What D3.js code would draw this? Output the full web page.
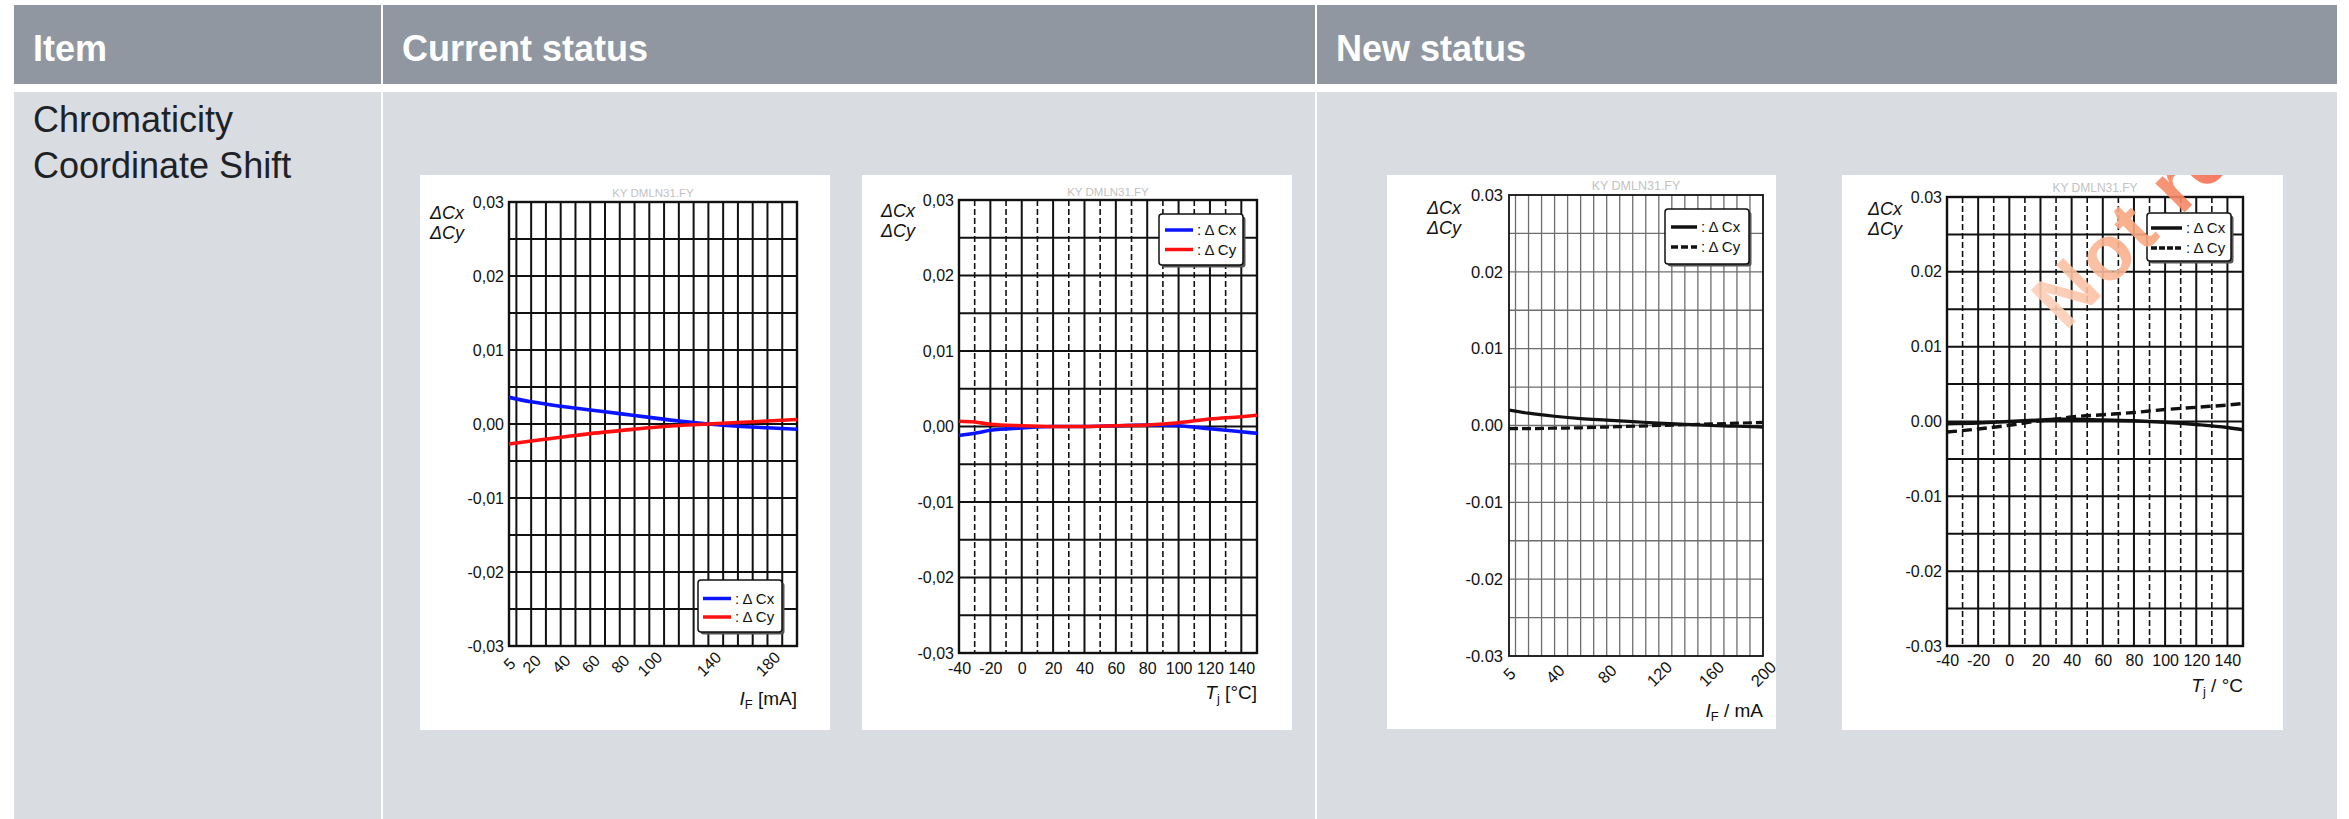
<!DOCTYPE html>
<html><head><meta charset="utf-8">
<script src="https://cdn.jsdelivr.net/npm/d3@7"></script>
<style>body{margin:0;background:#fff}svg{display:block}</style>
</head><body>
<svg id="c" width="2349" height="819"></svg>
<script>
// ---------- data ----------
const headers = ["Item", "Current status", "New status"];
const itemLines = ["Chromaticity", "Coordinate Shift"];
const yTicks = [-0.03, -0.02, -0.01, 0, 0.01, 0.02, 0.03];
const seriesNames = [": \u0394 Cx", ": \u0394 Cy"];
const watermark = "KY DMLN31.FY";
const stamp = "Not re";

// chart 1: current status, vs forward current
const c1X  = [5, 20, 40, 60, 80, 100, 120, 140, 160, 180, 200];
const c1Cx = [0.0036, 0.0030, 0.0024, 0.0019, 0.0014, 0.0009, 0.0004, 0.0000, -0.0003, -0.0005, -0.0007];
const c1Cy = [-0.0027, -0.0023, -0.0018, -0.0013, -0.0009, -0.0005, -0.0002, 0.0000, 0.0002, 0.0004, 0.0006];
const c1XTicks = [5, 20, 40, 60, 80, 100, 140, 180];

// chart 2: current status, vs junction temperature
const c2X  = [-40, -30, -20, 0, 20, 40, 60, 80, 100, 120, 140, 150];
const c2Cx = [-0.0012, -0.0009, -0.0005, -0.0002, 0.0000, 0.0000, 0.0001, 0.0002, 0.0001, -0.0003, -0.0007, -0.0009];
const c2Cy = [0.0007, 0.0006, 0.0003, 0.0001, 0.0000, 0.0000, 0.0001, 0.0002, 0.0005, 0.0010, 0.0013, 0.0015];
const c2XTicks = [-40, -20, 0, 20, 40, 60, 80, 100, 120, 140];

// chart 3: new status, vs forward current
const c3X  = [5, 20, 40, 60, 80, 100, 120, 140, 160, 180, 200];
const c3Cx = [0.0020, 0.0016, 0.0012, 0.0009, 0.0007, 0.0005, 0.0003, 0.00015, 0.0000, -0.0001, -0.0002];
const c3Cy = [-0.0004, -0.0004, -0.00035, -0.0003, -0.0002, -0.0001, 0.0000, 0.0001, 0.0002, 0.0003, 0.0004];
const c3XTicks = [5, 40, 80, 120, 160, 200];

// chart 4: new status, vs junction temperature
const c4X  = [-40, -20, 0, 20, 30, 40, 60, 80, 100, 120, 140, 150];
const c4Cx = [-0.0003, -0.0002, 0.0000, 0.0002, 0.0003, 0.0003, 0.0002, 0.0001, -0.0001, -0.0004, -0.0008, -0.0011];
const c4Cy = [-0.0014, -0.0010, -0.0005, 0.0001, 0.0003, 0.0006, 0.0009, 0.0012, 0.0016, 0.0019, 0.0022, 0.0024];
const c4XTicks = [-40, -20, 0, 20, 40, 60, 80, 100, 120, 140];

// ---------- layout ----------
const FONT = "'Liberation Sans', Arial, Helvetica, sans-serif";
const svg = d3.select("#c");
const cols = [[14, 381], [383, 1315], [1317, 2337]];
const HEAD = [5, 84], BODY = [92, 819];

cols.forEach((c, i) => {
  svg.append("rect").attr("x", c[0]).attr("y", HEAD[0]).attr("width", c[1] - c[0]).attr("height", HEAD[1] - HEAD[0]).attr("fill", "#9197a0");
  svg.append("rect").attr("x", c[0]).attr("y", BODY[0]).attr("width", c[1] - c[0]).attr("height", BODY[1] - BODY[0]).attr("fill", "#d9dce0");
  svg.append("text").attr("x", c[0] + 19).attr("y", 61)
    .attr("font-family", FONT).attr("font-size", 36).attr("font-weight", "bold").attr("fill", "#fff")
    .text(headers[i]);
});
svg.append("text").attr("font-family", FONT).attr("font-size", 36).attr("fill", "#1d2227")
  .selectAll("tspan").data(itemLines).join("tspan")
  .attr("x", 33).attr("y", (d, i) => 132 + i * 46).text(d => d);

const fmtComma = v => v.toFixed(2).replace(".", ",");
const fmtDot = v => v.toFixed(2);
const fmtInt = v => String(v);

function drawChart(cfg) {
  const g = svg.append("g");
  const [bx0, by0, bx1, by1] = cfg.box;
  g.append("rect").attr("x", bx0).attr("y", by0).attr("width", bx1 - bx0).attr("height", by1 - by0).attr("fill", "#fff");
  const [px0, py0, px1, py1] = cfg.plot;
  const x = d3.scaleLinear().domain(cfg.xDomain).range([px0, px1]);
  const y = d3.scaleLinear().domain([-0.03, 0.03]).range([py1, py0]);

  // watermark text
  g.append("text").attr("x", (px0 + px1) / 2).attr("y", cfg.wmY).attr("text-anchor", "middle")
    .attr("font-family", FONT).attr("font-size", cfg.wmSize).attr("fill", "#c2c2c2").text(watermark);

  // horizontal grid
  const hVals = d3.range(-5, 6).map(i => i * 0.005);
  g.append("g").selectAll("line").data(hVals).join("line")
    .attr("x1", px0).attr("x2", px1).attr("y1", d => y(d)).attr("y2", d => y(d))
    .attr("stroke", cfg.gridColor).attr("stroke-width", cfg.gridW);
  // vertical grid: major
  g.append("g").selectAll("line").data(cfg.vMajor).join("line")
    .attr("y1", py0).attr("y2", py1).attr("x1", d => x(d)).attr("x2", d => x(d))
    .attr("stroke", cfg.gridColor).attr("stroke-width", cfg.gridW);
  // vertical grid: minor (dashed)
  g.append("g").selectAll("line").data(cfg.vMinor || []).join("line")
    .attr("y1", py0).attr("y2", py1).attr("x1", d => x(d)).attr("x2", d => x(d))
    .attr("stroke", "#111").attr("stroke-width", 1.6).attr("stroke-dasharray", "6,3");
  // frame
  g.append("rect").attr("x", px0).attr("y", py0).attr("width", px1 - px0).attr("height", py1 - py0)
    .attr("fill", "none").attr("stroke", "#111").attr("stroke-width", cfg.frameW);

  // y axis labels
  const ya = g.append("g").attr("transform", `translate(${px0},0)`)
    .call(d3.axisLeft(y).tickValues(yTicks).tickSize(0).tickPadding(cfg.yPad).tickFormat(cfg.yFmt));
  ya.select(".domain").remove();
  ya.attr("font-family", FONT).attr("font-size", cfg.fs);
  ya.selectAll("text").attr("fill", "#111");

  // x axis labels
  const xa = g.append("g").attr("transform", `translate(0,${py1})`)
    .call(d3.axisBottom(x).tickValues(cfg.xTicks).tickSize(0).tickFormat(fmtInt));
  xa.select(".domain").remove();
  xa.attr("font-family", FONT).attr("font-size", cfg.fs);
  if (cfg.rotate) {
    xa.selectAll("text").attr("y", 0).attr("dy", "0.35em").attr("text-anchor", "middle")
      .attr("transform", `translate(0,${cfg.xLabOff}) rotate(-45)`).attr("fill", "#111");
  } else {
    xa.selectAll("text").attr("y", cfg.xLabOff).attr("dy", "0.35em").attr("fill", "#111");
  }

  // y title
  const yt = g.append("text").attr("font-family", FONT).attr("font-size", cfg.titleSize).attr("font-style", "italic").attr("fill", "#111");
  yt.append("tspan").attr("x", cfg.yTitleX).attr("y", cfg.yTitleY).text("\u0394Cx");
  yt.append("tspan").attr("x", cfg.yTitleX).attr("y", cfg.yTitleY + 20).text("\u0394Cy");

  // x title
  const xt = g.append("text").attr("x", px1).attr("y", cfg.xTitleY).attr("text-anchor", "end")
    .attr("font-family", FONT).attr("font-size", cfg.titleSize + 1).attr("fill", "#111");
  xt.append("tspan").attr("font-style", "italic").text(cfg.xTitle[0]);
  xt.append("tspan").attr("font-size", cfg.titleSize * 0.72).attr("dy", 4).text(cfg.xTitle[1]);
  xt.append("tspan").attr("dy", -4).text(cfg.xTitle[2]);

  // series
  const line = d3.line().x(d => x(d[0])).y(d => y(d[1])).curve(d3.curveMonotoneX);
  cfg.series.forEach(s => {
    g.append("path").datum(d3.zip(cfg.xs, s.values)).attr("d", line)
      .attr("fill", "none").attr("stroke", s.color).attr("stroke-width", cfg.lineW)
      .attr("stroke-dasharray", s.dash || null).attr("stroke-linecap", "butt");
  });

  // legend
  const L = cfg.legend;
  g.append("rect").attr("x", L.box[0] + 2.5).attr("y", L.box[1] + 2.5).attr("width", L.box[2] - L.box[0]).attr("height", L.box[3] - L.box[1])
    .attr("rx", 3).attr("fill", "#555");
  g.append("rect").attr("x", L.box[0]).attr("y", L.box[1]).attr("width", L.box[2] - L.box[0]).attr("height", L.box[3] - L.box[1])
    .attr("rx", 3).attr("fill", "#fff").attr("stroke", "#111").attr("stroke-width", 1.5);
  cfg.series.forEach((s, i) => {
    const ly = L.y0 + i * L.dy;
    g.append("line").attr("x1", L.lx[0]).attr("x2", L.lx[1]).attr("y1", ly).attr("y2", ly)
      .attr("stroke", s.color).attr("stroke-width", 3.5).attr("stroke-dasharray", s.legendDash || null);
    g.append("text").attr("x", L.tx).attr("y", ly).attr("dy", "0.35em")
      .attr("font-family", FONT).attr("font-size", 15).attr("fill", "#111").text(seriesNames[i]);
  });
  return g;
}

drawChart({
  box: [420, 175, 830, 730], plot: [509, 202, 797, 646], xDomain: [5, 200],
  xs: c1X, series: [{ values: c1Cx, color: "#0a14ff" }, { values: c1Cy, color: "#ff1010" }],
  xTicks: c1XTicks, rotate: true, xLabOff: 18, vMajor: d3.range(10, 200, 10),
  gridColor: "#111", gridW: 2, frameW: 2.4, yFmt: fmtComma, yPad: 5, fs: 16, lineW: 3.6,
  wmY: 197, wmSize: 11.5, yTitleX: 430, yTitleY: 219, titleSize: 18, xTitleY: 705,
  xTitle: ["I", "F", " [mA]"],
  legend: { box: [698, 580, 782, 632], lx: [703, 731], tx: 735, y0: 598.5, dy: 18.5 }
});

drawChart({
  box: [862, 175, 1292, 730], plot: [959, 200, 1257, 653], xDomain: [-40, 150],
  xs: c2X, series: [{ values: c2Cx, color: "#0a14ff" }, { values: c2Cy, color: "#ff1010" }],
  xTicks: c2XTicks, rotate: false, xLabOff: 15, vMajor: d3.range(-20, 150, 20), vMinor: d3.range(-30, 150, 20),
  gridColor: "#111", gridW: 2, frameW: 2.4, yFmt: fmtComma, yPad: 5, fs: 16, lineW: 3.6,
  wmY: 196, wmSize: 11.5, yTitleX: 881, yTitleY: 217, titleSize: 18, xTitleY: 699,
  xTitle: ["T", "j", " [\u00B0C]"],
  legend: { box: [1159, 214, 1243, 265], lx: [1165, 1193], tx: 1197, y0: 230, dy: 19.5 }
});

drawChart({
  box: [1387, 175, 1776, 729], plot: [1509, 195, 1763, 656], xDomain: [5, 200],
  xs: c3X, series: [{ values: c3Cx, color: "#111" }, { values: c3Cy, color: "#111", dash: "9,4", legendDash: "7,3" }],
  xTicks: c3XTicks, rotate: true, xLabOff: 18, vMajor: d3.range(10, 200, 10),
  gridColor: "#6e6e6e", gridW: 1.3, frameW: 1.8, yFmt: fmtDot, yPad: 6, fs: 16.5, lineW: 3.2,
  wmY: 190, wmSize: 12.5, yTitleX: 1427, yTitleY: 214, titleSize: 18, xTitleY: 717,
  xTitle: ["I", "F", " / mA"],
  legend: { box: [1665, 209, 1749, 264], lx: [1671, 1697], tx: 1701, y0: 227, dy: 20 }
});

drawChart({
  box: [1842, 175, 2283, 730], plot: [1947, 197, 2243, 646], xDomain: [-40, 150],
  xs: c4X, series: [{ values: c4Cx, color: "#111" }, { values: c4Cy, color: "#111", dash: "10,5", legendDash: "6,2" }],
  xTicks: c4XTicks, rotate: false, xLabOff: 14, vMajor: d3.range(-20, 150, 20), vMinor: d3.range(-30, 150, 20),
  gridColor: "#111", gridW: 2, frameW: 2.4, yFmt: fmtDot, yPad: 5, fs: 16, lineW: 3.4,
  wmY: 192, wmSize: 12, yTitleX: 1868, yTitleY: 215, titleSize: 18, xTitleY: 692,
  xTitle: ["T", "j", " / \u00B0C"],
  legend: { box: [2147, 213, 2231, 261], lx: [2151, 2182], tx: 2186, y0: 228, dy: 20 }
});

// orange stamp on the last chart (clipped to its image box)
const defs = svg.append("defs");
defs.append("clipPath").attr("id", "clip4").append("rect").attr("x", 1842).attr("y", 175).attr("width", 441).attr("height", 555);
const grad = defs.append("linearGradient").attr("id", "stampGrad").attr("gradientUnits", "userSpaceOnUse")
  .attr("x1", 0).attr("y1", 0).attr("x2", 240).attr("y2", 0);
grad.append("stop").attr("offset", "0%").attr("stop-color", "#fcd2bb");
grad.append("stop").attr("offset", "55%").attr("stop-color", "#f8a47c");
grad.append("stop").attr("offset", "100%").attr("stop-color", "#f25d45");
svg.append("g").attr("clip-path", "url(#clip4)")
  .append("text")
  .attr("transform", "translate(2065,332) rotate(-45)")
  .attr("font-family", FONT).attr("font-size", 78).attr("font-weight", "bold").attr("letter-spacing", 3)
  .attr("fill", "url(#stampGrad)").attr("fill-opacity", 0.9).text(stamp);
</script>
</body></html>
